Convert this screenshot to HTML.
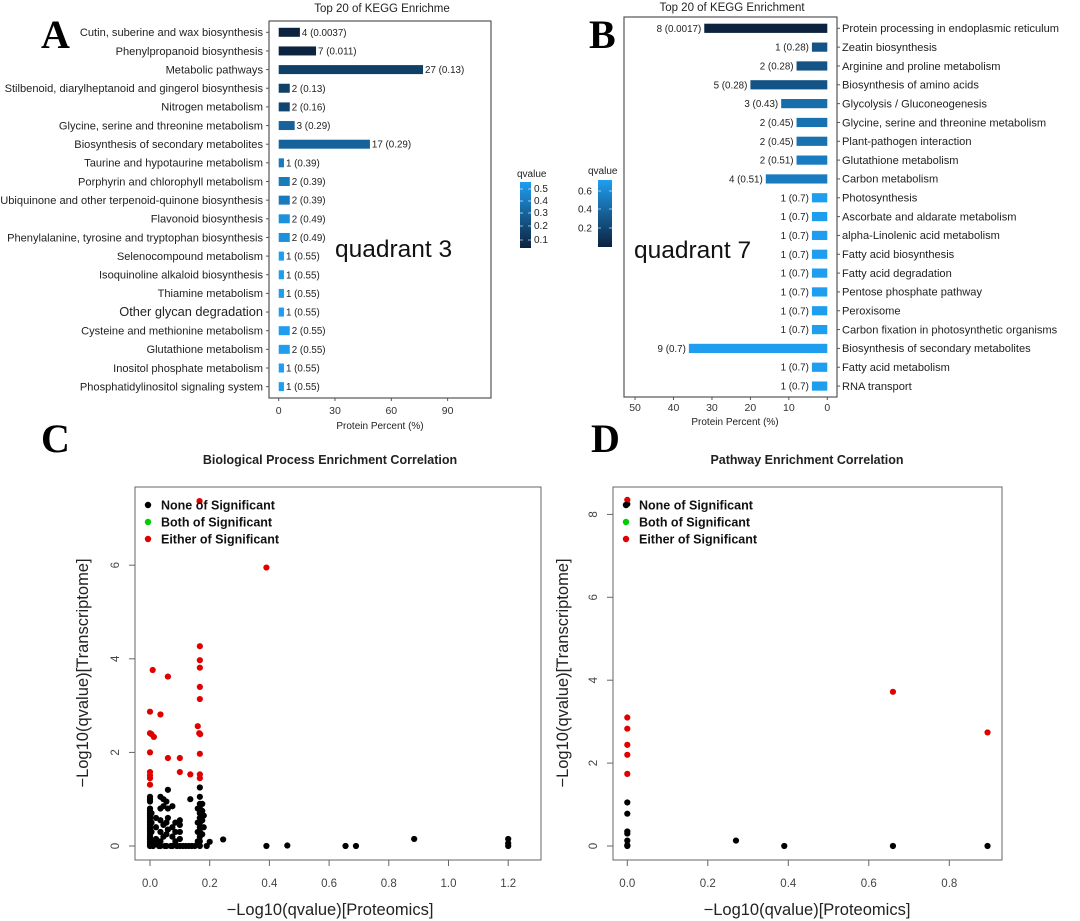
<!DOCTYPE html>
<html><head><meta charset="utf-8"><style>
html,body{margin:0;padding:0;background:#fff}
svg{display:block;font-family:"Liberation Sans",sans-serif}
</style></head><body>
<svg id="fig" width="1080" height="921" viewBox="0 0 1080 921" xmlns="http://www.w3.org/2000/svg"></svg>
<script>
// ---- Panel A data ----
const catsA=["Cutin, suberine and wax biosynthesis","Phenylpropanoid biosynthesis","Metabolic pathways","Stilbenoid, diarylheptanoid and gingerol biosynthesis","Nitrogen metabolism","Glycine, serine and threonine metabolism","Biosynthesis of secondary metabolites","Taurine and hypotaurine metabolism","Porphyrin and chlorophyll metabolism","Ubiquinone and other terpenoid-quinone biosynthesis","Flavonoid biosynthesis","Phenylalanine, tyrosine and tryptophan biosynthesis","Selenocompound metabolism","Isoquinoline alkaloid biosynthesis","Thiamine metabolism","Other glycan degradation","Cysteine and methionine metabolism","Glutathione metabolism","Inositol phosphate metabolism","Phosphatidylinositol signaling system"];
const countsA=[4,7,27,2,2,3,17,1,2,2,2,2,1,1,1,1,2,2,1,1];
const qA=["0.0037","0.011","0.13","0.13","0.16","0.29","0.29","0.39","0.39","0.39","0.49","0.49","0.55","0.55","0.55","0.55","0.55","0.55","0.55","0.55"];
const pctA=[11.3,19.9,76.9,5.9,5.9,8.5,48.6,2.8,5.9,5.9,5.9,5.9,2.8,2.8,2.8,2.8,5.9,5.9,2.8,2.8];
const ticksA=[0,30,60,90];
// ---- Panel B data ----
const catsB=["Protein processing in endoplasmic reticulum","Zeatin biosynthesis","Arginine and proline metabolism","Biosynthesis of amino acids","Glycolysis / Gluconeogenesis","Glycine, serine and threonine metabolism","Plant-pathogen interaction","Glutathione metabolism","Carbon metabolism","Photosynthesis","Ascorbate and aldarate metabolism","alpha-Linolenic acid metabolism","Fatty acid biosynthesis","Fatty acid degradation","Pentose phosphate pathway","Peroxisome","Carbon fixation in photosynthetic organisms","Biosynthesis of secondary metabolites","Fatty acid metabolism","RNA transport"];
const countsB=[8,1,2,5,3,2,2,2,4,1,1,1,1,1,1,1,1,9,1,1];
const qB=["0.0017","0.28","0.28","0.28","0.43","0.45","0.45","0.51","0.51","0.7","0.7","0.7","0.7","0.7","0.7","0.7","0.7","0.7","0.7","0.7"];
const pctB=[32,4,8,20,12,8,8,8,16,4,4,4,4,4,4,4,4,36,4,4];
const ticksB=[50,40,30,20,10,0];
// ---- Panel C data ----
const redCx=[0.166,0.39,0.167,0.167,0.167,0.167,0.167,0.16,0.165,0.168,0.167,0.167,0.167,0.009,0.06,0,0.035,0,0.005,0.013,0,0.06,0.1,0.1,0.135,0,0,0,0];
const redCy=[7.37,5.95,4.27,3.97,3.81,3.4,3.14,2.56,2.41,2.39,1.97,1.53,1.45,3.76,3.62,2.87,2.81,2.41,2.39,2.33,2.0,1.88,1.88,1.58,1.53,1.58,1.51,1.45,1.31];
const blackCx=[0,0,0,0,0,0,0,0,0,0,0,0,0,0,0,0,0,0,0,0,0.005,0.005,0.005,0.005,0.02,0.02,0.02,0.02,0.035,0.035,0.035,0.035,0.035,0.035,0.045,0.045,0.045,0.045,0.055,0.055,0.055,0.055,0.06,0.06,0.06,0.06,0.075,0.075,0.075,0.075,0.085,0.085,0.085,0.1,0.1,0.1,0.1,0.1,0.135,0.16,0.16,0.16,0.16,0.167,0.167,0.167,0.167,0.167,0.167,0.167,0.167,0.167,0.167,0.167,0.167,0.175,0.175,0.175,0.175,0.18,0.18,0.01,0.03,0.05,0.07,0.09,0.11,0.12,0.13,0.14,0.15,0.19,0.2,0.245,0.39,0.46,0.655,0.69,0.885,1.2,1.2,1.2];
const blackCy=[0,0.05,0.1,0.15,0.2,0.25,0.3,0.35,0.4,0.45,0.5,0.55,0.6,0.65,0.7,0.75,0.8,0.95,1.0,1.05,0.1,0.3,0.5,0.7,0.05,0.15,0.4,0.6,0.1,0.3,0.55,0.8,1.05,0,0.2,0.45,0.85,1.0,0.25,0.5,0.95,0,1.2,0.8,0.6,0.35,0.2,0.4,0.85,0,0.1,0.3,0.5,0.15,0.3,0.45,0.55,0,1.0,0.1,0.3,0.5,0.8,0,0.1,0.2,0.3,0.4,0.5,0.6,0.7,0.8,0.9,1.05,1.25,0.25,0.55,0.75,0.9,0.4,0.65,0,0,0,0,0,0,0,0,0,0,0,0.09,0.14,0,0.01,0,0,0.15,0.15,0.06,0];
const ticksCx=["0.0","0.2","0.4","0.6","0.8","1.0","1.2"];
const ticksCy=[0,2,4,6];
// ---- Panel D data ----
const redDx=[0,0.66,0.895,0,0,0,0,0];
const redDy=[8.35,3.72,2.74,3.1,2.83,2.44,2.2,1.74];
const blackDx=[0,0,0,0,0,0,0,0,0.27,0.39,0.66,0.895];
const blackDy=[8.25,1.05,0.78,0.35,0.3,0.13,0,0.02,0.13,0,0,0];
const ticksDx=["0.0","0.2","0.4","0.6","0.8"];
const ticksDy=[0,2,4,6,8];

const svg=document.getElementById('fig');
const NS='http://www.w3.org/2000/svg';
function mk(tag,attrs,parent){const e=document.createElementNS(NS,tag);for(const k in attrs)e.setAttribute(k,attrs[k]);(parent||svg).appendChild(e);return e;}
function txt(s,attrs,parent){const e=mk('text',attrs,parent);e.textContent=s;return e;}
function lerp(a,b,t){return Math.round(a+(b-a)*t);}
function qcol(q,qmin,qmax){let t=(q-qmin)/(qmax-qmin);t=Math.max(0,Math.min(1,t));
 const c0=[12,34,62],c1=[31,158,240];return `rgb(${lerp(c0[0],c1[0],t)},${lerp(c0[1],c1[1],t)},${lerp(c0[2],c1[2],t)})`;}

// ===== Panel A =====
(function(){
 const g=mk('g',{});
 const x0=278.7,sx=1.877,y0=32.3,step=18.65;
 const X=v=>x0+v*sx,Y=i=>y0+i*step;
 const L=txt('A',{x:41,y:48,'font-family':'Liberation Serif,serif','font-weight':'bold','font-size':40},g);
 const t=txt('Top 20 of KEGG Enrichme',{x:382,y:12,'text-anchor':'middle','font-size':11.5,fill:'#222'},g);
 const box=mk('rect',{x:269,y:21,width:222,height:377,fill:'none',stroke:'#555','stroke-width':1.2},g);
 const qs=qA.map(Number),qmin=Math.min(...qs),qmax=Math.max(...qs);
 catsA.forEach((c,i)=>{
  const lab=txt(c,{x:263,y:Y(i)+3.8,'text-anchor':'end','font-size':c==='Other glycan degradation'?12.8:11.1,fill:'#222'},g);
  
  mk('line',{x1:266,x2:269,y1:Y(i),y2:Y(i),stroke:'#555'},g);
  const b=mk('rect',{x:X(0),y:Y(i)-4.5,width:pctA[i]*sx,height:9,fill:qcol(qs[i],qmin,qmax)},g);
  
  const v=txt(countsA[i]+' ('+qA[i]+')',{x:X(pctA[i])+2,y:Y(i)+3.5,'font-size':9.8,fill:'#222'},g);
  
 });
 ticksA.forEach(v=>{mk('line',{x1:X(v),x2:X(v),y1:398,y2:401,stroke:'#555'},g);
  const tl=txt(String(v),{x:X(v),y:414,'text-anchor':'middle','font-size':10.5,fill:'#333'},g);});
 const xt=txt('Protein Percent (%)',{x:380,y:429,'text-anchor':'middle','font-size':10,fill:'#222'},g);
 const q=txt('quadrant 3',{x:335,y:257,'font-size':24.5,fill:'#111'},g);
 const defs=mk('defs',{});const gr=mk('linearGradient',{id:'gA',x1:0,y1:1,x2:0,y2:0},defs);
 mk('stop',{offset:0,'stop-color':qcol(0,0,1)},gr);mk('stop',{offset:1,'stop-color':qcol(1,0,1)},gr);
 const cb=mk('rect',{x:520,y:182,width:11,height:66,fill:'url(#gA)'},g);
 const ql=txt('qvalue',{x:517,y:177,'font-size':10,fill:'#222'},g);
 [['0.5',189],['0.4',201],['0.3',213],['0.2',226],['0.1',240]].forEach(([s,y])=>{txt(s,{x:534,y:y+3,'font-size':10,fill:'#222'},g);mk('line',{x1:520,x2:523,y1:y,y2:y,stroke:'#fff','stroke-opacity':0.6},g);mk('line',{x1:528,x2:531,y1:y,y2:y,stroke:'#fff','stroke-opacity':0.6},g);});
})();

// ===== Panel B =====
(function(){
 const g=mk('g',{});
 const x0=827.3,sx=3.845,y0=28.3,step=18.83;
 const X=v=>x0-v*sx,Y=i=>y0+i*step;
 const L=txt('B',{x:589,y:48,'font-family':'Liberation Serif,serif','font-weight':'bold','font-size':40},g);
 const t=txt('Top 20 of KEGG Enrichment',{x:732,y:11,'text-anchor':'middle','font-size':11.5,fill:'#222'},g);
 const box=mk('rect',{x:624,y:17,width:213,height:380,fill:'none',stroke:'#555','stroke-width':1.2},g);
 const qs=qB.map(Number),qmin=Math.min(...qs),qmax=Math.max(...qs);
 catsB.forEach((c,i)=>{
  const lab=txt(c,{x:842,y:Y(i)+3.8,'font-size':11.1,fill:'#222'},g);
  
  mk('line',{x1:837,x2:840,y1:Y(i),y2:Y(i),stroke:'#555'},g);
  const b=mk('rect',{x:X(pctB[i]),y:Y(i)-4.6,width:pctB[i]*sx,height:9.2,fill:qcol(qs[i],qmin,qmax)},g);
  
  const v=txt(countsB[i]+' ('+qB[i]+')',{x:X(pctB[i])-3,y:Y(i)+3.5,'text-anchor':'end','font-size':9.8,fill:'#222'},g);
  
 });
 ticksB.forEach(v=>{mk('line',{x1:X(v),x2:X(v),y1:397,y2:400,stroke:'#555'},g);
  const tl=txt(String(v),{x:X(v),y:411,'text-anchor':'middle','font-size':10.5,fill:'#333'},g);});
 const xt=txt('Protein Percent (%)',{x:735,y:425,'text-anchor':'middle','font-size':10,fill:'#222'},g);
 const q=txt('quadrant 7',{x:634,y:258,'font-size':24.5,fill:'#111'},g);
 const cb=mk('rect',{x:598,y:180,width:14,height:67,fill:'url(#gA)'},g);
 const ql=txt('qvalue',{x:588,y:174,'font-size':10,fill:'#222'},g);
 [['0.6',191],['0.4',209],['0.2',228]].forEach(([s,y])=>{txt(s,{x:578,y:y+3.5,'font-size':10,fill:'#222'},g);mk('line',{x1:598,x2:601,y1:y,y2:y,stroke:'#fff','stroke-opacity':0.6},g);mk('line',{x1:609,x2:612,y1:y,y2:y,stroke:'#fff','stroke-opacity':0.6},g);});
})();

// ===== Scatter helper =====
function scatter(o){
 const g=mk('g',{});
 const X=v=>o.x0+v*o.sx,Y=v=>o.y0-v*o.sy;
 const L=txt(o.letter,{x:o.lx,y:452,'font-family':'Liberation Serif,serif','font-weight':'bold','font-size':40},g);
 const t=txt(o.title,{x:o.tcx,y:464,'text-anchor':'middle','font-size':12.5,'font-weight':'bold',fill:'#222'},g);
 const box=mk('rect',{x:o.bx,y:487,width:o.bw,height:373,fill:'none',stroke:'#666','stroke-width':1},g);
 o.tx.forEach(s=>{const x=X(Number(s));mk('line',{x1:x,x2:x,y1:860,y2:866,stroke:'#666'},g);
  const tl=txt(s,{x:x,y:887,'text-anchor':'middle','font-size':11.5,fill:'#444'},g);});
 o.ty.forEach(v=>{const y=Y(v);mk('line',{x1:o.bx-6,x2:o.bx,y1:y,y2:y,stroke:'#666'},g);
  const tl=txt(String(v),{x:0,y:0,'text-anchor':'middle','font-size':11.5,fill:'#444',transform:`translate(${o.bx-16},${y}) rotate(-90)`},g);});
 const xt=txt('\u2212Log10(qvalue)[Proteomics]',{x:o.tcx,y:915,'text-anchor':'middle','font-size':16.5,fill:'#222'},g);
 const yt=txt('\u2212Log10(qvalue)[Transcriptome]',{x:0,y:0,'text-anchor':'middle','font-size':16.5,fill:'#222',transform:`translate(${o.ytx},673) rotate(-90)`},g);
 o.bX.forEach((v,i)=>{const c=mk('circle',{cx:X(v),cy:Y(o.bY[i]),r:3.1,fill:'#000'},g);});
 o.rX.forEach((v,i)=>{const c=mk('circle',{cx:X(v),cy:Y(o.rY[i]),r:3.1,fill:'#e00000'},g);});
 [['None of Significant','#000',505],['Both of Significant','#0c0',522],['Either of Significant','#e00000',539]].forEach(([s,col,y])=>{
  const d=mk('circle',{cx:o.legx,cy:y,r:3.2,fill:col},g);
  const lt=txt(s,{x:o.legx+13,y:y+4.5,'font-size':12.5,'font-weight':'bold',fill:'#111'},g);});
}
scatter({name:'panel-c',letter:'C',lx:41,title:'Biological Process Enrichment Correlation',tcx:330,bx:135,bw:406,x0:150,sx:298.5,y0:846,sy:46.8,tx:ticksCx,ty:ticksCy,ytx:88,bX:blackCx,bY:blackCy,rX:redCx,rY:redCy,legx:148});
scatter({name:'panel-d',letter:'D',lx:591,title:'Pathway Enrichment Correlation',tcx:807,bx:613,bw:389,x0:627.3,sx:402.5,y0:846,sy:41.45,tx:ticksDx,ty:ticksDy,ytx:568,bX:blackDx,bY:blackDy,rX:redDx,rY:redDy,legx:626});
</script>
</body></html>
